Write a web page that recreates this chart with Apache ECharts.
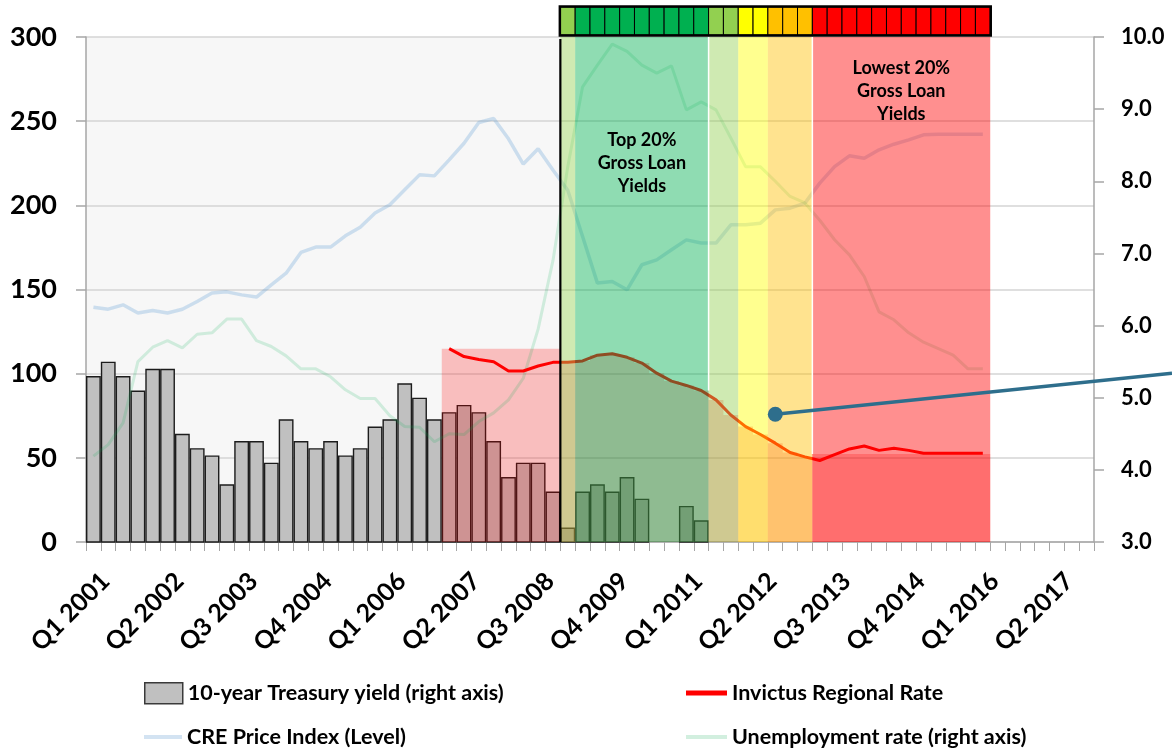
<!DOCTYPE html>
<html lang="en">
<head>
<meta charset="utf-8">
<title>Invictus Regional Rate and loan-yield grades</title>
<script src="https://cdn.jsdelivr.net/npm/echarts@6/dist/echarts.min.js"></script>
<style>
  html, body { margin: 0; padding: 0; background: #ffffff; }
  #chart { width: 1172px; height: 748px; }
</style>
</head>
<body>
<div id="chart"></div>
<script>
// ---------------------------------------------------------------------------
// Data
// ---------------------------------------------------------------------------
const quarters = [
  'Q1 2001', 'Q2 2001', 'Q3 2001', 'Q4 2001', 'Q1 2002', 'Q2 2002', 'Q3 2002', 'Q4 2002',
  'Q1 2003', 'Q2 2003', 'Q3 2003', 'Q4 2003', 'Q1 2004', 'Q2 2004', 'Q3 2004', 'Q4 2004',
  'Q1 2005', 'Q2 2005', 'Q3 2005', 'Q4 2005', 'Q1 2006', 'Q2 2006', 'Q3 2006', 'Q4 2006',
  'Q1 2007', 'Q2 2007', 'Q3 2007', 'Q4 2007', 'Q1 2008', 'Q2 2008', 'Q3 2008', 'Q4 2008',
  'Q1 2009', 'Q2 2009', 'Q3 2009', 'Q4 2009', 'Q1 2010', 'Q2 2010', 'Q3 2010', 'Q4 2010',
  'Q1 2011', 'Q2 2011', 'Q3 2011', 'Q4 2011', 'Q1 2012', 'Q2 2012', 'Q3 2012', 'Q4 2012',
  'Q1 2013', 'Q2 2013', 'Q3 2013', 'Q4 2013', 'Q1 2014', 'Q2 2014', 'Q3 2014', 'Q4 2014',
  'Q1 2015', 'Q2 2015', 'Q3 2015', 'Q4 2015', 'Q1 2016', 'Q2 2016', 'Q3 2016', 'Q4 2016',
  'Q1 2017', 'Q2 2017', 'Q3 2017', 'Q4 2017'
];

// 10-year Treasury yield, % (right axis). null: below the 3.0 floor of the axis.
const treasuryYield = [
  5.30, 5.50, 5.30, 5.10, 5.40, 5.40, 4.50, 4.30,
  4.20, 3.80, 4.40, 4.40, 4.10, 4.70, 4.40, 4.30,
  4.40, 4.20, 4.30, 4.60, 4.70, 5.20, 5.00, 4.70,
  4.80, 4.90, 4.80, 4.40, 3.90, 4.10, 4.10, 3.70,
  3.20, 3.70, 3.80, 3.70, 3.90, 3.60, null, null,
  3.50, 3.30, null, null, null, null, null, null,
  null, null, null, null, null, null, null, null,
  null, null, null, null, null, null, null, null,
  null, null, null, null
];

// CRE price index level (left axis)
const crePriceIndex = [
  139.5, 138.3, 140.9, 136.0, 137.5, 136.0, 138.3, 142.9,
  147.9, 148.6, 146.8, 145.5, 152.8, 159.7, 172.0, 175.2,
  175.2, 181.9, 187.0, 195.4, 200.3, 209.2, 218.1, 217.5,
  227.0, 236.9, 249.2, 251.6, 239.5, 224.5, 233.6, 221.0,
  209.0, 181.5, 153.8, 154.8, 149.8, 164.7, 167.6, 173.6,
  179.5, 177.6, 177.6, 188.4, 188.4, 189.4, 197.3, 198.3,
  201.3, 213.2, 223.0, 229.4, 228.0, 233.0, 236.3, 238.9,
  241.9, 242.2, 242.2, 242.2, 242.2, null, null, null,
  null, null, null, null
];

// Unemployment rate, % (right axis)
const unemploymentRate = [
  4.19, 4.35, 4.65, 5.50, 5.70, 5.79, 5.69, 5.88,
  5.90, 6.09, 6.09, 5.79, 5.71, 5.58, 5.40, 5.40,
  5.29, 5.11, 4.99, 4.99, 4.75, 4.60, 4.59, 4.39,
  4.50, 4.49, 4.67, 4.79, 4.97, 5.27, 5.95, 6.90,
  8.20, 9.31, 9.61, 9.90, 9.80, 9.61, 9.50, 9.60,
  8.99, 9.10, 8.99, 8.60, 8.20, 8.20, 8.00, 7.79,
  7.70, 7.46, 7.19, 6.98, 6.68, 6.19, 6.08, 5.90,
  5.77, 5.68, 5.59, 5.40, 5.40, null, null, null,
  null, null, null, null
];

// Invictus Regional Rate, % (right axis)
const invictusRate = [
  null, null, null, null, null, null, null, null,
  null, null, null, null, null, null, null, null,
  null, null, null, null, null, null, null, null,
  5.68, 5.57, 5.53, 5.50, 5.37, 5.37, 5.44, 5.49,
  5.49, 5.51, 5.59, 5.61, 5.56, 5.48, 5.34, 5.23,
  5.17, 5.10, 4.97, 4.76, 4.60, 4.49, 4.37, 4.24,
  4.18, 4.13, 4.21, 4.29, 4.33, 4.27, 4.30, 4.27,
  4.23, 4.23, 4.23, 4.23, 4.23, null, null, null,
  null, null, null, null
];

// Shaded rate level under the Invictus line, % (right axis)
const rateShade = [
  null, null, null, null, null, null, null, null,
  null, null, null, null, null, null, null, null,
  null, null, null, null, null, null, null, null,
  5.68, 5.68, 5.68, 5.68, 5.68, 5.68, 5.68, 5.68,
  5.49, 5.51, 5.59, 5.61, 5.56, 5.48, 5.34, 5.23,
  5.17, 5.10, 4.97, 4.76, 4.60, 4.49, 4.37, 4.24,
  4.18, 4.22, 4.22, 4.22, 4.22, 4.22, 4.22, 4.22,
  4.22, 4.22, 4.22, 4.22, 4.22, null, null, null,
  null, null, null, null
];

// Gross loan yield grade per quarter: G / LG (high) … Y / O … R (lowest)
const loanYieldGrade = [
  null, null, null, null, null, null, null, null,
  null, null, null, null, null, null, null, null,
  null, null, null, null, null, null, null, null,
  null, null, null, null, null, null, null, null,
  'LG', 'G', 'G', 'G', 'G', 'G', 'G', 'G',
  'G', 'G', 'LG', 'LG', 'Y', 'Y', 'O', 'O',
  'O', 'R', 'R', 'R', 'R', 'R', 'R', 'R',
  'R', 'R', 'R', 'R', 'R', null, null, null,
  null, null, null, null
];

// Quarters where a white divider separates the grade bands
const bandDividers = ['Q3 2011', 'Q2 2013'];

// Text notes placed over grade bands: [grade, right-axis level, text]
const bandNotes = [
  ['G', 8.25, 'Top 20%\nGross Loan\nYields'],
  ['R', 9.25, 'Lowest 20%\nGross Loan\nYields']
];

// Call-out pointer: start [quarter, right-axis level], end level at the canvas edge
const pointerFrom = ['Q3 2012', 4.77];
const pointerToLevel = 5.34;

// Axis ranges
const leftAxisRange = { min: 0, max: 300, interval: 50 };
const rightAxisRange = { min: 3, max: 10, interval: 1 };

const seriesNames = {
  treasury: '10-year Treasury yield (right axis)',
  invictus: 'Invictus Regional Rate',
  cre: 'CRE Price Index (Level)',
  unemployment: 'Unemployment rate (right axis)'
};

// ---------------------------------------------------------------------------
// Styling
// ---------------------------------------------------------------------------
const FONT = 'Lato, "Open Sans", "Noto Sans", sans-serif';
const gradeColor = { LG: '#92D050', G: '#00B050', Y: '#FFFF00', O: '#FFC000', R: '#FF0000' };
const AXIS_GREY = '#a6a6a6';
const BAND_ALPHA = 0.44;

// ---------------------------------------------------------------------------
// Helpers for the custom layers (all positions come from the axes)
// ---------------------------------------------------------------------------
function catIndex(q) { return quarters.indexOf(q); }
function catEdges(api, i) {
  const cx = api.coord([i, rightAxisRange.min])[0];
  const w = api.size([1, 0])[0];
  return [cx - w / 2, cx + w / 2];
}
function plotTop(api) { return api.coord([0, rightAxisRange.max])[1]; }
function plotBottom(api) { return api.coord([0, rightAxisRange.min])[1]; }
function gradeRuns() {
  const runs = [];
  loanYieldGrade.forEach((g, i) => {
    if (!g) return;
    const last = runs[runs.length - 1];
    if (last && last.grade === g && last.end === i - 1) last.end = i;
    else runs.push({ grade: g, start: i, end: i });
  });
  return runs;
}
const firstGraded = loanYieldGrade.findIndex(g => g);

const customBase = {
  type: 'custom',
  xAxisIndex: 0,
  yAxisIndex: 1,
  data: [[0, rightAxisRange.min]],
  encode: { x: 0, y: 1 },
  silent: true,
  clip: false
};

// Light panel behind the pre-grade history
const panelSeries = Object.assign({}, customBase, {
  name: 'panel',
  z: -1,
  renderItem: (p, api) => {
    const x0 = catEdges(api, 0)[0];
    const x1 = catEdges(api, firstGraded)[0];
    const t = plotTop(api), b = plotBottom(api);
    return { type: 'rect', shape: { x: x0, y: t, width: x1 - x0, height: b - t }, style: { fill: '#f7f7f7' } };
  }
});

// Stepped red shading below the regional rate
const shadeSeries = Object.assign({}, customBase, {
  name: 'shade',
  z: 3,
  renderItem: (p, api) => {
    const b = plotBottom(api);
    const idx = [];
    rateShade.forEach((v, i) => { if (v != null) idx.push(i); });
    const first = idx[0], last = idx[idx.length - 1];
    const pts = [[catEdges(api, first)[0], b]];
    for (let i = first; i <= last; i++) {
      const e = catEdges(api, i);
      const y = api.coord([i, rateShade[i]])[1];
      pts.push([e[0], y], [e[1], y]);
    }
    pts.push([catEdges(api, last)[1], b]);
    return { type: 'polygon', shape: { points: pts }, style: { fill: 'rgba(255,0,0,0.23)' } };
  }
});

// Translucent grade bands across the plot
const bandSeries = Object.assign({}, customBase, {
  name: 'bands',
  z: 5,
  renderItem: (p, api) => {
    const t = plotTop(api), b = plotBottom(api);
    return {
      type: 'group',
      children: gradeRuns().map(r => {
        const x0 = catEdges(api, r.start)[0], x1 = catEdges(api, r.end)[1];
        return {
          type: 'rect',
          shape: { x: x0, y: t, width: x1 - x0, height: b - t },
          style: { fill: echarts.color.modifyAlpha(gradeColor[r.grade], BAND_ALPHA) }
        };
      })
    };
  }
});

// Dividers, start marker and the grade strip above the plot
const markSeries = Object.assign({}, customBase, {
  name: 'marks',
  z: 6,
  renderItem: (p, api) => {
    const t = plotTop(api), b = plotBottom(api);
    const children = [];
    bandDividers.forEach(q => {
      const i = catIndex(q);
      const x = catEdges(api, i)[0];
      const level = Math.max(rateShade[i] || 0, rateShade[i - 1] || 0);
      const yEnd = api.coord([i, level])[1];
      children.push({ type: 'line', shape: { x1: x, y1: t, x2: x, y2: yEnd }, style: { stroke: '#ffffff', lineWidth: 1.5 } });
    });
    const xs = catEdges(api, firstGraded)[0];
    children.push({ type: 'line', shape: { x1: xs, y1: t + 2, x2: xs, y2: b }, style: { stroke: '#000000', lineWidth: 2.2 } });

    const stripTop = t - 30, stripH = 28;
    let sx0 = Infinity, sx1 = -Infinity;
    loanYieldGrade.forEach((g, i) => {
      if (!g) return;
      const e = catEdges(api, i);
      sx0 = Math.min(sx0, e[0]); sx1 = Math.max(sx1, e[1]);
      children.push({
        type: 'rect',
        shape: { x: e[0], y: stripTop, width: e[1] - e[0], height: stripH },
        style: { fill: gradeColor[g], stroke: '#000000', lineWidth: 1 }
      });
    });
    children.push({
      type: 'rect',
      shape: { x: sx0 - 0.5, y: stripTop - 0.5, width: sx1 - sx0 + 1, height: stripH + 1 },
      style: { fill: 'none', stroke: '#000000', lineWidth: 2.5 }
    });
    return { type: 'group', children };
  }
});

// Band notes and call-out pointer
const noteSeries = Object.assign({}, customBase, {
  name: 'notes',
  z: 7,
  renderItem: (p, api) => {
    const children = [];
    const runs = gradeRuns();
    bandNotes.forEach(([grade, level, text]) => {
      const run = runs.find(r => r.grade === grade);
      const x = (catEdges(api, run.start)[0] + catEdges(api, run.end)[1]) / 2;
      const y = api.coord([run.start, level])[1];
      children.push({
        type: 'text',
        style: {
          x, y, text,
          fill: '#000000',
          fontFamily: FONT, fontWeight: 'bold', fontSize: 18, lineHeight: 23,
          align: 'center', verticalAlign: 'middle'
        }
      });
    });
    const start = api.coord([catIndex(pointerFrom[0]), pointerFrom[1]]);
    const endX = api.getWidth();
    const endY = api.coord([0, pointerToLevel])[1];
    children.push({ type: 'line', shape: { x1: start[0], y1: start[1], x2: endX, y2: endY }, style: { stroke: '#2e6e8c', lineWidth: 3.5 } });
    children.push({ type: 'circle', shape: { cx: start[0], cy: start[1], r: 7.5 }, style: { fill: '#2e6e8c' } });
    return { type: 'group', children };
  }
});

// ---------------------------------------------------------------------------
// Legends: four single-entry legends laid out in two rows
// ---------------------------------------------------------------------------
const legendText = { fontFamily: FONT, fontWeight: 'bold', fontSize: 21.5, lineHeight: 21, color: '#000000' };
function legendAt(name, left, top, w, h, itemStyle) {
  return {
    data: [{ name, icon: 'rect', itemStyle }],
    left, top, itemWidth: w, itemHeight: h,
    padding: 0, selectedMode: false, textStyle: legendText
  };
}

// ---------------------------------------------------------------------------
// Chart
// ---------------------------------------------------------------------------
const chart = echarts.init(document.getElementById('chart'), null, { renderer: 'canvas' });

chart.setOption({
  animation: false,
  backgroundColor: '#ffffff',
  textStyle: { fontFamily: FONT },
  grid: { left: 86, right: 78, top: 37, height: 505, outerBoundsMode: 'none', containLabel: false },
  legend: [
    legendAt(seriesNames.treasury, 144, 682, 38, 21, { color: '#c0c0c0', borderColor: '#3a3a3a', borderWidth: 1.5 }),
    legendAt(seriesNames.invictus, 686, 682, 41, 5, { color: '#ff0000' }),
    legendAt(seriesNames.cre, 144, 726, 38, 4, { color: '#d3e3f2' }),
    legendAt(seriesNames.unemployment, 686, 726, 41, 4, { color: '#d2efdf' })
  ],
  xAxis: {
    type: 'category',
    data: quarters,
    boundaryGap: true,
    axisLine: { show: true, lineStyle: { color: AXIS_GREY, width: 1.5 } },
    axisTick: { show: true, interval: 0, length: 9, lineStyle: { color: AXIS_GREY, width: 1 } },
    axisLabel: {
      interval: 4, rotate: 45, margin: 47, padding: [0, -17, 0, 0],
      fontFamily: FONT, fontWeight: 'bold', fontSize: 25, color: '#000000'
    },
    splitLine: { show: false }
  },
  yAxis: [
    {
      type: 'value',
      min: leftAxisRange.min, max: leftAxisRange.max, interval: leftAxisRange.interval,
      axisLine: { show: true, lineStyle: { color: AXIS_GREY, width: 1.5 } },
      axisTick: { show: true, length: 10, lineStyle: { color: AXIS_GREY, width: 1.5 } },
      axisLabel: { margin: 29, fontFamily: FONT, fontWeight: 'bold', fontSize: 27, color: '#000000' },
      splitLine: { show: true, lineStyle: { color: '#d4d4d4', width: 1.5 } }
    },
    {
      type: 'value',
      position: 'right',
      min: rightAxisRange.min, max: rightAxisRange.max, interval: rightAxisRange.interval,
      axisLine: { show: true, lineStyle: { color: AXIS_GREY, width: 1.5 } },
      axisTick: { show: true, length: 10, lineStyle: { color: AXIS_GREY, width: 1.5 } },
      axisLabel: {
        margin: 27, align: 'left', fontFamily: FONT, fontWeight: 'bold', fontSize: 22, color: '#000000',
        formatter: v => v.toFixed(1)
      },
      splitLine: { show: false }
    }
  ],
  series: [
    panelSeries,
    {
      name: seriesNames.treasury,
      type: 'bar',
      xAxisIndex: 0, yAxisIndex: 1,
      data: treasuryYield,
      barCategoryGap: '0%',
      z: 2,
      itemStyle: { color: '#c0c0c0', borderColor: '#1c1c1c', borderWidth: 1.4 }
    },
    shadeSeries,
    {
      name: seriesNames.cre,
      type: 'line',
      xAxisIndex: 0, yAxisIndex: 0,
      data: crePriceIndex,
      symbol: 'none',
      z: 4,
      lineStyle: { color: 'rgba(91,155,213,0.28)', width: 3.5 },
      itemStyle: { color: '#d3e3f2' }
    },
    {
      name: seriesNames.unemployment,
      type: 'line',
      xAxisIndex: 0, yAxisIndex: 1,
      data: unemploymentRate,
      symbol: 'none',
      z: 4,
      lineStyle: { color: 'rgba(0,176,80,0.16)', width: 3 },
      itemStyle: { color: '#d2efdf' }
    },
    {
      name: seriesNames.invictus,
      type: 'line',
      xAxisIndex: 0, yAxisIndex: 1,
      data: invictusRate,
      symbol: 'none',
      z: 4,
      lineStyle: { color: '#ff0000', width: 3 },
      itemStyle: { color: '#ff0000' }
    },
    bandSeries,
    markSeries,
    noteSeries
  ]
});
</script>
</body>
</html>
